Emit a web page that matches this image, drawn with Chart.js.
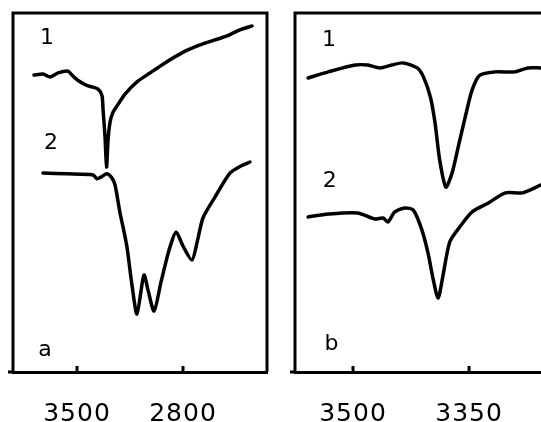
<!DOCTYPE html>
<html>
<head>
<meta charset="utf-8">
<script src="https://cdn.jsdelivr.net/npm/chart.js@4/dist/chart.umd.min.js"></script>
<style>
  html, body { margin: 0; padding: 0; background: #fff; }
  #wrap { position: relative; width: 541px; height: 422px; overflow: hidden; }
  canvas { position: absolute; top: 0; }
</style>
</head>
<body>
<div id="wrap">
  <canvas id="panelA" width="270" height="422" style="left:0"></canvas>
  <canvas id="panelB" width="271" height="422" style="left:270px"></canvas>
</div>
<script>
// panel a, wavenumber (cm-1) and transmittance (arb. units)
const aWave1 = [3784, 3725, 3678, 3625, 3559, 3533, 3493, 3434, 3401, 3361, 3335, 3328, 3315, 3305, 3295, 3282, 3262, 3236, 3183, 3104, 3018, 2919, 2807, 2688, 2589, 2509, 2424, 2344];
const aTrans1 = [82.7, 83.0, 82.2, 83.3, 83.8, 82.7, 81.2, 79.8, 79.4, 78.8, 77.0, 73.0, 65.5, 57.1, 64.6, 69.6, 72.4, 74.1, 77.4, 80.8, 83.3, 86.1, 88.9, 91.1, 92.5, 93.6, 95.3, 96.4];
const aWave2 = [3725, 3566, 3394, 3368, 3342, 3302, 3269, 3249, 3216, 3196, 3170, 3137, 3104, 3058, 3031, 2991, 2945, 2906, 2886, 2846, 2800, 2741, 2708, 2668, 2589, 2490, 2417, 2358];
const aTrans2 = [55.4, 55.2, 54.9, 53.8, 54.3, 55.2, 54.0, 52.1, 44.3, 40.4, 34.8, 24.2, 16.2, 27.0, 22.8, 17.0, 25.1, 31.8, 34.8, 39.0, 35.1, 31.2, 35.9, 42.9, 48.7, 55.4, 57.4, 58.5];
const aTicks = [3500, 2800];

// panel b
const bWave1 = [3558, 3532, 3497, 3481, 3465, 3450, 3435, 3417, 3409, 3400, 3394, 3388, 3380, 3372, 3364, 3355, 3346, 3336, 3316, 3291, 3274, 3257];
const bTrans1 = [81.9, 83.6, 85.5, 85.5, 84.7, 85.5, 86.1, 84.7, 82.2, 76.6, 69.4, 59.1, 51.5, 55.4, 62.7, 71.0, 78.6, 82.7, 83.6, 83.6, 84.7, 84.7];
const bWave2 = [3558, 3532, 3494, 3472, 3461, 3455, 3446, 3433, 3422, 3411, 3403, 3397, 3390, 3384, 3375, 3362, 3346, 3325, 3303, 3281, 3257];
const bTrans2 = [43.2, 44.0, 44.3, 42.6, 42.9, 41.8, 44.6, 45.7, 45.1, 39.6, 33.1, 26.5, 20.6, 26.5, 36.2, 40.4, 44.6, 47.1, 49.9, 49.9, 52.1];
const bTicks = [3500, 3350];

const toPoints = (xs, ys) => xs.map((x, i) => ({ x: x, y: ys[i] }));

// box, inner tick marks and curve labels
const framePlugin = {
  id: 'frame',
  beforeDraw(chart) {
    chart.ctx.letterSpacing = '1px';
  },
  afterDraw(chart, args, opts) {
    const { ctx, chartArea: a, scales } = chart;
    ctx.save();
    ctx.letterSpacing = '0px';
    ctx.strokeStyle = '#000';
    ctx.lineWidth = 3;
    ctx.beginPath();
    ctx.moveTo(a.left, a.bottom);
    ctx.lineTo(a.left, a.top);
    ctx.lineTo(a.right, a.top);
    if (opts.rightSide) ctx.lineTo(a.right, a.bottom);
    ctx.stroke();
    // axis runs a little past the left side
    ctx.beginPath();
    ctx.moveTo(a.left - 5, a.bottom);
    ctx.lineTo(a.left, a.bottom);
    ctx.stroke();
    scales.x.ticks.forEach(t => {
      const px = scales.x.getPixelForValue(t.value);
      ctx.beginPath();
      ctx.moveTo(px, a.bottom);
      ctx.lineTo(px, a.bottom - 6);
      ctx.stroke();
    });
    ctx.fillStyle = '#000';
    ctx.font = '22px "DejaVu Sans"';
    ctx.textAlign = 'center';
    ctx.textBaseline = 'middle';
    opts.labels.forEach(l => {
      ctx.fillText(l.text, scales.x.getPixelForValue(l.x), scales.y.getPixelForValue(l.y));
    });
    ctx.restore();
  }
};

function makePanel(id, s1, s2, xMax, xMin, ticks, pad, labels, rightSide) {
  return new Chart(document.getElementById(id), {
    type: 'line',
    data: {
      datasets: [
        { label: '1', data: s1 },
        { label: '2', data: s2 }
      ]
    },
    options: {
      responsive: false,
      animation: false,
      layout: { padding: pad },
      elements: {
        line: { borderColor: '#000', borderWidth: 3.5, tension: 0.25, borderCapStyle: 'round', borderJoinStyle: 'round' },
        point: { radius: 0 }
      },
      plugins: {
        legend: { display: false },
        tooltip: { enabled: false },
        frame: { labels: labels, rightSide: rightSide }
      },
      scales: {
        x: {
          type: 'linear',
          reverse: true,
          min: xMin,
          max: xMax,
          afterBuildTicks: scale => { scale.ticks = ticks.map(v => ({ value: v })); },
          afterFit: scale => { scale.height = 50; },
          grid: { display: false, drawTicks: false },
          border: { display: true, color: '#000', width: 3 },
          ticks: {
            color: '#000',
            padding: 27,
            maxRotation: 0,
            font: { family: 'DejaVu Sans', size: 25 },
            callback: v => String(v)
          }
        },
        y: { display: false, min: 0, max: 100 }
      }
    },
    plugins: [framePlugin]
  });
}

makePanel('panelA', toPoints(aWave1, aTrans1), toPoints(aWave2, aTrans2),
  3923, 2245, aTicks,
  { left: 13, right: 3, top: 13, bottom: 0 },
  [{ text: '1', x: 3698, y: 93 }, { text: '2', x: 3672, y: 63.8 }, { text: 'a', x: 3711, y: 6.1 }],
  true);

makePanel('panelB', toPoints(bWave1, bTrans1), toPoints(bWave2, bTrans2),
  3575, 3257, bTicks,
  { left: 25, right: 0, top: 13, bottom: 0 },
  [{ text: '1', x: 3531, y: 92.5 }, { text: '2', x: 3530, y: 53.2 }, { text: 'b', x: 3528, y: 7.8 }],
  false);
</script>
</body>
</html>
